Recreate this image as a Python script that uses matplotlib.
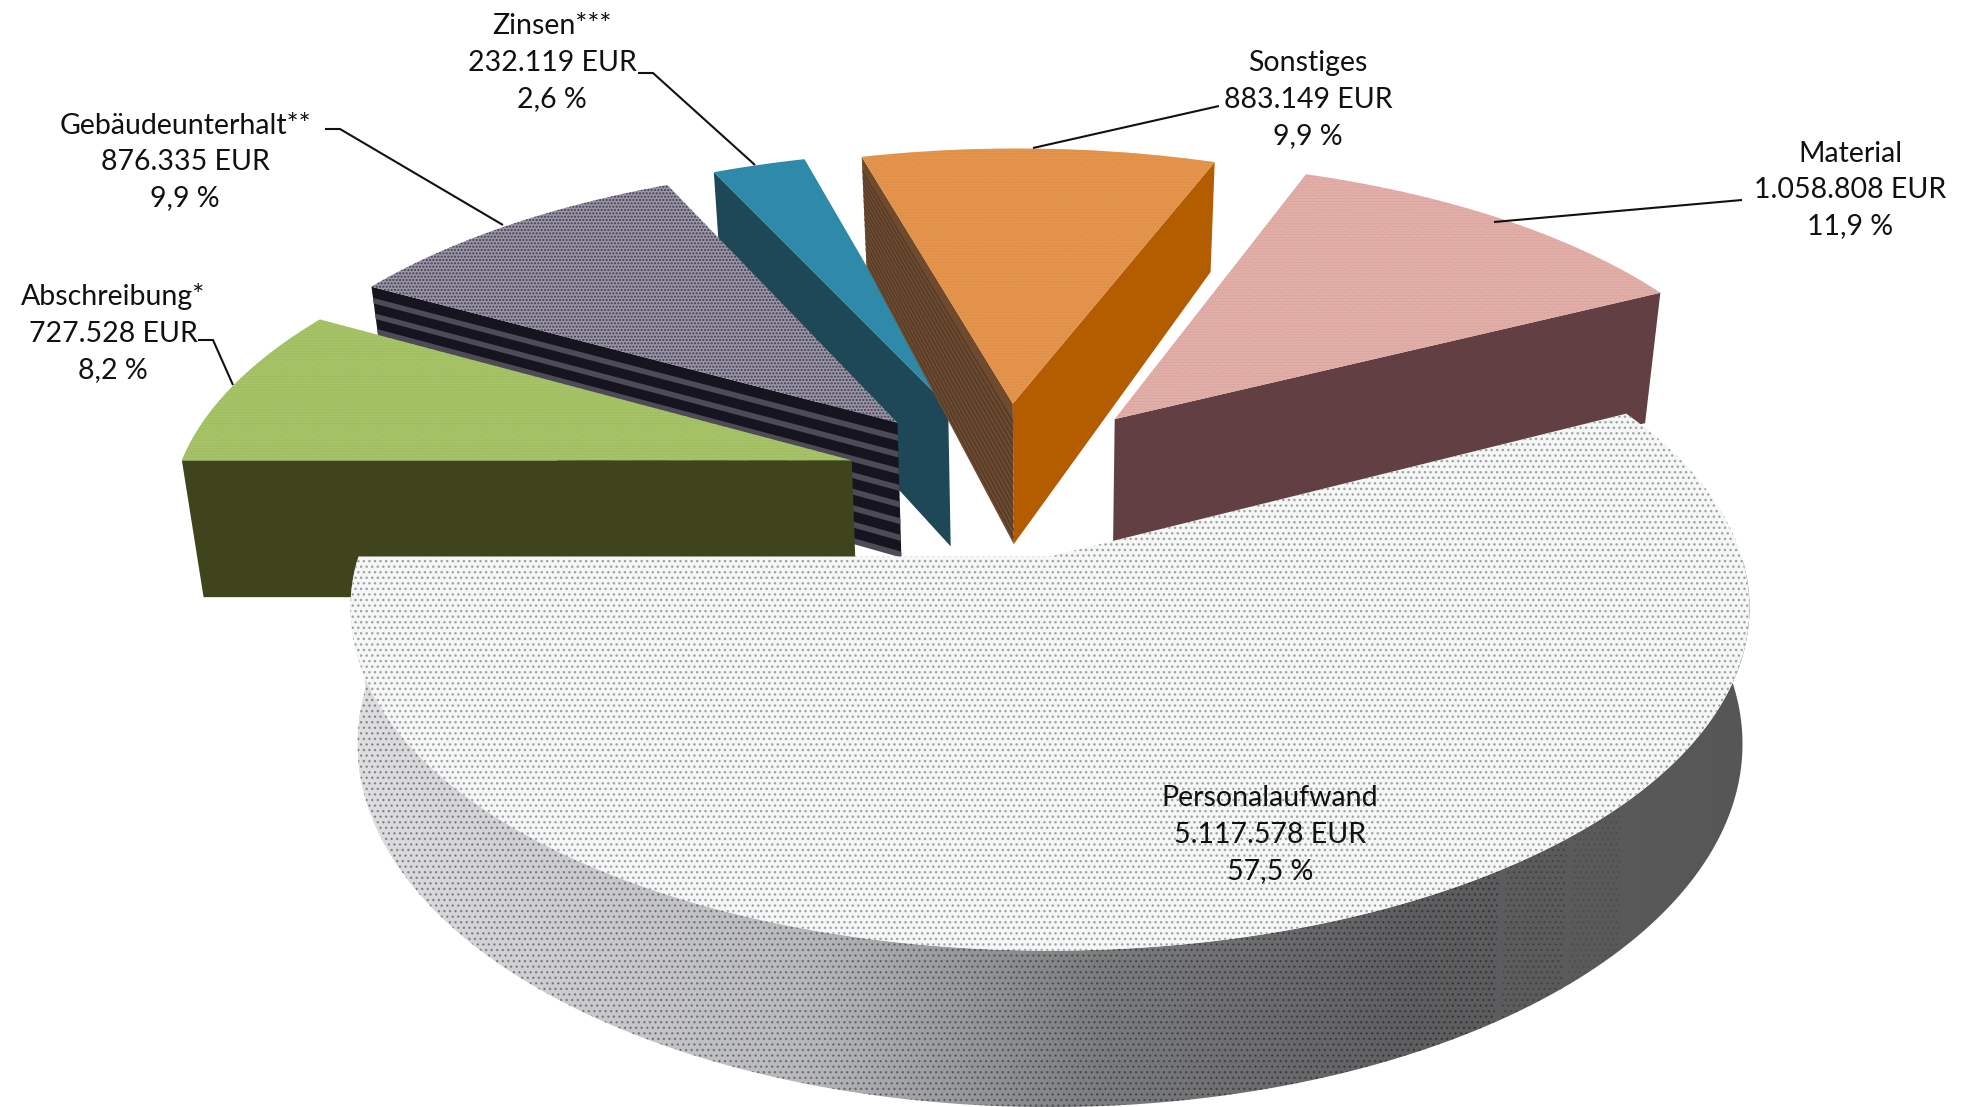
import numpy as np
import matplotlib
matplotlib.use("Agg")
import matplotlib.pyplot as plt
from matplotlib.colors import LinearSegmentedColormap
from matplotlib.patches import Polygon

# Aufwandsarten und Beträge
categories = ["Personalaufwand", "Abschreibung*", "Gebäudeunterhalt**", "Zinsen***", "Sonstiges", "Material"]
amounts = [5117578, 727528, 876335, 232119, 883149, 1058808]
percent_labels = ["57,5", "8,2", "9,9", "2,6", "9,9", "11,9"]

# Scene geometry of the tilted pie (pixels)
CX, CY = 1050.0, 556.5
RX, RY = 700.0, 335.0
PERSP = 0.15
BOTTOM_SHRINK = 0.975

# Per-slice layout: plane offset (u, v), width factor, wall depth and depth falloff
offsets = {
    "Personalaufwand": (0.0, 0.0),
    "Abschreibung*": (-0.2960, 0.300),
    "Gebäudeunterhalt**": (-0.2317, 0.4246),
    "Zinsen***": (-0.1560, 0.480),
    "Sonstiges": (-0.0570, 0.490),
    "Material": (0.0985, 0.437),
}
widths = {"Personalaufwand": 0.988}
shrinks = {"Personalaufwand": 0.99}
depths = {
    "Personalaufwand": (133, 1), "Abschreibung*": (143, 1), "Gebäudeunterhalt**": (142, 1),
    "Zinsen***": (150, 1), "Sonstiges": (162, 2), "Material": (115, -1),
}
top_style = {
    "Abschreibung*": ("#9fbe60", "#aec96f", "......"),
    "Gebäudeunterhalt**": ("#9a96a8", "#3f3b4a", "....."),
    "Zinsen***": ("#2f8aa9", None, None),
    "Sonstiges": ("#e08f45", "#e89a55", "......"),
    "Material": ("#dba6a0", "#e8b8b0", "......"),
    "Personalaufwand": ("#f5f6f6", "#a0a2a4", "..."),
}
# Dots on the rim wall thin out towards its dark end: (x limit, opacity)
rim_dot_stages = [(1500, 0.32), (1570, 0.20), (1630, 0.10)]


def project(u, v):
    u, v = np.asarray(u, float), np.asarray(v, float)
    w = 1 + PERSP * v
    return CX + RX * u / w, CY - RY * v / w, w


def lowered(u, v, name, frac=1.0):
    """Screen points on the wall at a fraction of its depth below the top face."""
    x, y, w = project(u, v)
    d, p = depths[name]
    scale = 1 - (1 - shrinks.get(name, BOTTOM_SHRINK)) * frac
    return CX + (x - CX) * scale, y + frac * d / w ** p


def wall(ax, us, vs, name, f0=0.0, f1=1.0, **kw):
    x0, y0 = lowered(us, vs, name, f0)
    x1, y1 = lowered(us, vs, name, f1)
    pts = np.r_[np.c_[x0, y0], np.c_[x1, y1][::-1]]
    patch = Polygon(pts, closed=True, lw=0, **kw)
    ax.add_patch(patch)
    return patch


def edge(a, name, n=2):
    ou, ov = offsets[name]
    r = np.linspace(0, 1, n)
    t = np.radians(a)
    return ou + r * np.cos(t), ov + r * np.sin(t)


def arc(a0, a1, name, n=160):
    ou, ov = offsets[name]
    t = np.radians(np.linspace(a0, a1, n))
    return ou + widths.get(name, 1.0) * np.cos(t), ov + np.sin(t)


def top_face(ax, a0, a1, name, zorder=1):
    ou, ov = offsets[name]
    us, vs = arc(a0, a1, name)
    x, y, _ = project(np.r_[ou, us], np.r_[ov, vs])
    face, dots, hatch = top_style[name]
    ax.add_patch(Polygon(np.c_[x, y], closed=True, facecolor=face, lw=0, zorder=zorder))
    if hatch:
        ax.add_patch(Polygon(np.c_[x, y], closed=True, facecolor="none",
                             edgecolor=dots, hatch=hatch, lw=0, zorder=zorder))


fig = plt.figure(figsize=(19.61, 11.07), dpi=100, facecolor="white")
ax = fig.add_axes([0, 0, 1, 1])
plt.rcParams["font.family"] = ["Lato", "DejaVu Sans"]

# Angles run clockwise from the left-hand radius of the large slice
total = sum(amounts)
spans = [360.0 * a / total for a in amounts]
angles = {}
cursor = 180.0
for name, span in zip(categories[1:], spans[1:]):
    angles[name] = (cursor, cursor - span)
    cursor -= span
angles[categories[0]] = (cursor, -180.0)

# Zinsen
name = "Zinsen***"
a0, a1 = angles[name]
wall(ax, *edge(a0, name), name, facecolor="#1e4757")
top_face(ax, a0, a1, name)

# Material
name = "Material"
a0, a1 = angles[name]
wall(ax, *edge(a1, name), name, facecolor="#623f42")
top_face(ax, a0, a1, name)

# Sonstiges: left wall with fine lines, solid right wall
name = "Sonstiges"
a0, a1 = angles[name]
wall(ax, *edge(a0, name), name, facecolor="#6f4a2c")
wall(ax, *edge(a1, name), name, facecolor="#b35c00")
for f in np.arange(0.12, 1.0, 0.055):
    wall(ax, *edge(a0, name), name, f, f + 0.02, facecolor="#4e3a2e")
top_face(ax, a0, a1, name)

# Gebäudeunterhalt: banded wall
name = "Gebäudeunterhalt**"
a0, a1 = angles[name]
wall(ax, *edge(a0, name), name, facecolor="#16151f")
for f in np.arange(0.09, 1.0, 0.125):
    wall(ax, *edge(a0, name), name, f, f + 0.045, facecolor="#4e4a58")
top_face(ax, a0, a1, name)

# Abschreibung
name = "Abschreibung*"
a0, a1 = angles[name]
wall(ax, *edge(a0, name), name, facecolor="#40441c")
top_face(ax, a0, a1, name)

# Personalaufwand: shaded rim wall, dots thinning out at the dark end, then the top face
name = "Personalaufwand"
a0, a1 = angles[name]
us, vs = arc(a0, a1, name, 300)
clip = wall(ax, us, vs, name, facecolor="none", zorder=1)
shade = LinearSegmentedColormap.from_list(
    "rim", [(0.0, "#dfdfe2"), (0.32, "#b8b9bd"), (0.53, "#7c7d7f"), (0.75, "#5f5f61"), (1.0, "#565656")])
img = ax.imshow(np.linspace(0, 1, 512)[None, :], cmap=shade, aspect="auto",
                extent=(350, 1760, 1107, 560), zorder=1, interpolation="bilinear")
img.set_clip_path(clip)
screen_x = project(us, vs)[0]
low_x = -np.inf
for limit, opacity in rim_dot_stages:
    band = (screen_x >= low_x) & (screen_x < limit)
    # The rim passes the band on the lower right only once, so keep its points in order
    wall(ax, us[band], vs[band], name, facecolor="none", edgecolor=(0, 0, 0, opacity),
         hatch="...", zorder=1.5)
    low_x = limit
top_face(ax, a0, a1, name, zorder=2)

ax.set_xlim(0, 1961)
ax.set_ylim(1107, 0)
ax.axis("off")

# Leader lines from the labels to the slices
leaders = {
    "Abschreibung*": ([198, 213, 233], [340, 340, 385]),
    "Gebäudeunterhalt**": ([325, 340, 503], [129, 129, 225]),
    "Zinsen***": ([638, 653, 755], [73, 73, 165]),
    "Sonstiges": ([1219, 1033], [106, 148]),
    "Material": ([1742, 1494], [200, 222]),
}
for xs, ys in leaders.values():
    ax.plot(xs, ys, color="#111111", lw=1.5, zorder=3, solid_capstyle="butt")

# Labels: name, amount and share on three lines
label_pos = {
    "Personalaufwand": (1270, 835), "Abschreibung*": (113, 333), "Gebäudeunterhalt**": (185, 162),
    "Zinsen***": (552, 63), "Sonstiges": (1308, 100), "Material": (1850, 190),
}
for name, amount, pct in zip(categories, amounts, percent_labels):
    amount_text = f"{amount:,}".replace(",", ".")
    ax.text(*label_pos[name], f"{name}\n{amount_text} EUR\n{pct} %", ha="center", va="center",
            fontsize=20.5, color="#111111", linespacing=1.5, zorder=4)

fig.savefig("out.png", dpi=100, facecolor="white")
